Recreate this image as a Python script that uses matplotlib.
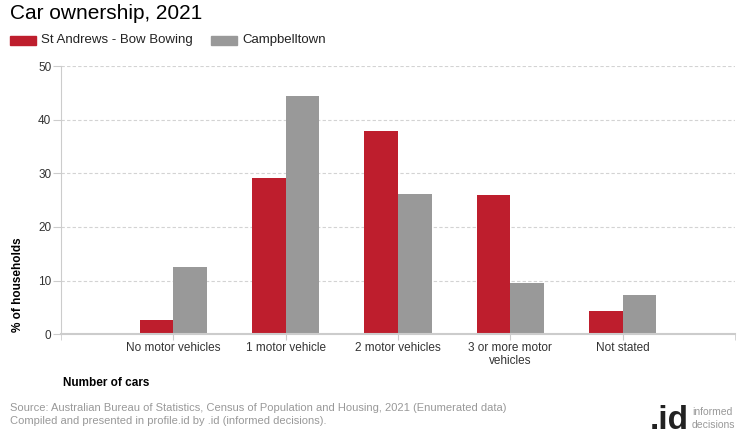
import numpy as np
import matplotlib.pyplot as plt

plt.rcParams['font.family'] = ['Liberation Sans', 'DejaVu Sans']

categories = ['No motor vehicles', '1 motor vehicle', '2 motor vehicles',
              '3 or more motor\nvehicles', 'Not stated']
st_andrews = [2.7, 29.1, 37.9, 26.0, 4.3]
campbelltown = [12.5, 44.4, 26.1, 9.6, 7.3]
series_names = ['St Andrews - Bow Bowing', 'Campbelltown']
yticks = [0, 10, 20, 30, 40, 50]

red = '#BE1E2D'
grey = '#999999'

fig = plt.figure(figsize=(7.4, 4.4), dpi=100)
ax = fig.add_axes([0.0824, 0.2402, 0.9108, 0.6098])

x = np.arange(len(categories))
w = 0.3
ax.bar(x - w / 2, st_andrews, w, color=red, linewidth=0)
ax.bar(x + w / 2, campbelltown, w, color=grey, linewidth=0)

ax.set_xlim(-1, 5)
ax.set_ylim(0, 50)
ax.set_yticks(yticks)
ax.set_xticks(x)
ax.set_xticklabels(categories, fontsize=8.5, color='#333333', linespacing=1.1)
ax.set_xticks([-1, 5], minor=True)
ax.tick_params(axis='x', which='both', length=4, color='#cccccc', pad=1.5)
ax.tick_params(axis='y', length=6, color='#cccccc', labelsize=8.5,
               labelcolor='#333333', pad=1)
ax.grid(axis='y', linestyle=(0, (3, 2)), color='#d3d3d3', linewidth=0.8)
ax.set_axisbelow(True)
for s in ['top', 'right']:
    ax.spines[s].set_visible(False)
ax.spines['left'].set_color('#cccccc')
ax.spines['bottom'].set_color('#cccccc')
ax.spines['bottom'].set_linewidth(1.5)

# title and legend
fig.text(10 / 740, 1 - 13.5 / 440, 'Car ownership, 2021', fontsize=15,
         va='center', ha='left', color='black')
fig.patches.append(plt.Rectangle((10 / 740, 1 - 45 / 440), 26 / 740, 9 / 440,
                                 transform=fig.transFigure, color=red))
fig.text(41 / 740, 1 - 40.5 / 440, series_names[0], fontsize=9.5,
         va='center', ha='left', color='#222222')
fig.patches.append(plt.Rectangle((211 / 740, 1 - 45 / 440), 26 / 740, 9 / 440,
                                 transform=fig.transFigure, color=grey))
fig.text(242 / 740, 1 - 40.5 / 440, series_names[1], fontsize=9.5,
         va='center', ha='left', color='#222222')

# axis titles
fig.text(18 / 740, 1 - 285 / 440, '% of households', fontsize=8.5,
         fontweight='bold', rotation=90, va='center', ha='center')
fig.text(63 / 740, 1 - 383 / 440, 'Number of cars', fontsize=8.5,
         fontweight='bold', va='center', ha='left')

# footer
fig.text(10 / 740, 1 - 408 / 440,
         'Source: Australian Bureau of Statistics, Census of Population and Housing, 2021 (Enumerated data)',
         fontsize=8, color='#999999', va='center', ha='left')
fig.text(10 / 740, 1 - 421 / 440,
         'Compiled and presented in profile.id by .id (informed decisions).',
         fontsize=8, color='#999999', va='center', ha='left')
fig.text(650 / 740, 1 - 420 / 440, '.id', fontsize=24, fontweight='bold',
         color='#222222', va='center', ha='left')
fig.text(692 / 740, 1 - 412 / 440, 'informed', fontsize=7.5, color='#999999',
         va='center', ha='left')
fig.text(692 / 740, 1 - 425 / 440, 'decisions', fontsize=7.5, color='#999999',
         va='center', ha='left')

fig.savefig('out.png', dpi=100)
